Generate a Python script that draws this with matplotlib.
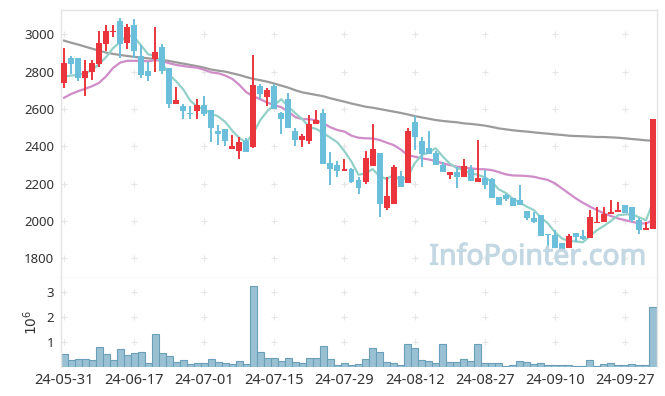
import numpy as np
import matplotlib
matplotlib.use("Agg")
import matplotlib.pyplot as plt

# price data, one entry per trading day (index 0 = 24-05-31)
opens = [2738, 2875, 2875, 2768, 2800, 2841, 2950, 3011, 3071, 2955,
         3050, 2884, 2804, 2868, 2930, 2818, 2627, 2616, 2577, 2591,
         2621, 2595, 2484, 2493, 2387, 2377, 2429, 2398, 2723, 2666,
         2723, 2577, 2654, 2484, 2436, 2430, 2521, 2580, 2311, 2300,
         2270, 2280, 2220, 2211, 2295, 2362, 2071, 2093, 2241, 2205,
         2532, 2429, 2389, 2366, 2300, 2246, 2264, 2237, 2278, 2211,
         2228, 2225, 2127, 2139, 2121, 2112, 2053, 2014, 2032, 1928,
         1925, 1884, 1853, 1934, 1920, 1907, 1987, 1996, 2036, 2046,
         2084, 2073, 2005, 1952, 1957]
closes = [2845, 2841, 2768, 2804, 2845, 2952, 3018, 3018, 2946, 3037,
          2911, 2782, 2779, 2904, 2805, 2627, 2648, 2591, 2571, 2621,
          2571, 2500, 2468, 2430, 2402, 2425, 2371, 2729, 2682, 2702,
          2598, 2548, 2500, 2436, 2455, 2520, 2541, 2305, 2280, 2270,
          2280, 2211, 2178, 2336, 2386, 2091, 2134, 2289, 2184, 2482,
          2452, 2357, 2357, 2300, 2264, 2264, 2237, 2295, 2216, 2228,
          2193, 2125, 2086, 2118, 2080, 2086, 2014, 1996, 1921, 1923,
          1853, 1841, 1920, 1916, 1902, 2020, 1996, 2036, 2046, 2057,
          2041, 2005, 1952, 1964, 2546]
highs = [2925, 2886, 2875, 2861, 2862, 3018, 3050, 3050, 3086, 3054,
         3082, 2943, 2854, 3041, 2948, 2818, 2720, 2628, 2616, 2652,
         2670, 2595, 2514, 2493, 2461, 2448, 2443, 2889, 2734, 2711,
         2734, 2586, 2684, 2496, 2466, 2568, 2593, 2598, 2371, 2323,
         2330, 2282, 2237, 2377, 2520, 2362, 2237, 2300, 2270, 2500,
         2564, 2452, 2484, 2377, 2318, 2264, 2287, 2332, 2300, 2434,
         2273, 2228, 2127, 2143, 2121, 2193, 2053, 2050, 2032, 1928,
         1952, 1884, 1928, 1934, 1952, 2059, 2077, 2077, 2112, 2100,
         2084, 2073, 2014, 1996, 2546]
lows = [2714, 2786, 2750, 2668, 2755, 2827, 2911, 2987, 2871, 2920,
        2871, 2768, 2752, 2800, 2787, 2604, 2627, 2545, 2545, 2545,
        2562, 2421, 2407, 2400, 2387, 2330, 2371, 2389, 2654, 2616,
        2598, 2464, 2500, 2400, 2395, 2412, 2518, 2305, 2193, 2237,
        2270, 2202, 2143, 2196, 2295, 2020, 2059, 2093, 2184, 2205,
        2380, 2291, 2357, 2300, 2261, 2223, 2178, 2237, 2216, 2211,
        2170, 2125, 2086, 2107, 2080, 2086, 2005, 1987, 1921, 1827,
        1853, 1841, 1853, 1886, 1898, 1907, 1987, 1996, 2036, 2046,
        2041, 1993, 1928, 1952, 1957]

# moving averages
ma5 = [2773, 2779, 2782, 2791, 2810, 2840, 2878, 2926, 2958, 2995,
       2986, 2940, 2893, 2885, 2845, 2783, 2748, 2705, 2645, 2612,
       2598, 2575, 2560, 2530, 2484, 2445, 2420, 2471, 2541, 2589,
       2622, 2652, 2612, 2577, 2545, 2502, 2493, 2470, 2446, 2421,
       2373, 2318, 2248, 2255, 2278, 2240, 2225, 2247, 2217, 2236,
       2308, 2353, 2366, 2390, 2346, 2308, 2284, 2272, 2255, 2248,
       2234, 2211, 2170, 2150, 2120, 2099, 2077, 2059, 2019, 1988,
       1941, 1907, 1892, 1891, 1886, 1920, 1951, 1974, 2000, 2031,
       2035, 2037, 2020, 2004, 2102]
ma20 = [2660, 2680, 2695, 2708, 2722, 2740, 2775, 2820, 2848, 2858,
        2858, 2858, 2855, 2862, 2857, 2845, 2836, 2830, 2825, 2821,
        2810, 2796, 2791, 2779, 2761, 2729, 2690, 2668, 2652, 2634,
        2621, 2609, 2586, 2556, 2546, 2545, 2539, 2523, 2502, 2487,
        2479, 2457, 2446, 2443, 2442, 2434, 2420, 2407, 2384, 2353,
        2345, 2336, 2330, 2321, 2309, 2300, 2291, 2287, 2282, 2278,
        2277, 2273, 2262, 2250, 2244, 2243, 2241, 2237, 2228, 2220,
        2202, 2175, 2148, 2121, 2098, 2077, 2059, 2041, 2027, 2014,
        2005, 1996, 1987, 1987, 2005]
ma120 = [2966, 2955, 2945, 2934, 2923, 2912, 2902, 2895, 2889, 2884,
         2879, 2875, 2871, 2868, 2862, 2857, 2850, 2843, 2836, 2829,
         2821, 2811, 2805, 2800, 2791, 2782, 2771, 2761, 2754, 2746,
         2736, 2725, 2714, 2700, 2689, 2682, 2675, 2668, 2657, 2648,
         2639, 2629, 2621, 2612, 2607, 2600, 2593, 2586, 2579, 2571,
         2562, 2555, 2548, 2541, 2536, 2532, 2529, 2523, 2520, 2516,
         2511, 2504, 2496, 2491, 2486, 2482, 2479, 2475, 2471, 2468,
         2464, 2461, 2457, 2455, 2454, 2452, 2450, 2450, 2448, 2446,
         2443, 2439, 2436, 2432, 2430]

# volume in millions
volume = [0.52, 0.29, 0.32, 0.32, 0.29, 0.80, 0.52, 0.29, 0.72, 0.48,
          0.56, 0.60, 0.16, 1.32, 0.56, 0.44, 0.20, 0.28, 0.12, 0.16,
          0.16, 0.32, 0.20, 0.16, 0.12, 0.24, 0.12, 3.24, 0.60, 0.36,
          0.36, 0.24, 0.36, 0.20, 0.16, 0.36, 0.36, 0.84, 0.32, 0.07,
          0.15, 0.08, 0.11, 0.31, 0.75, 0.59, 0.19, 0.15, 0.07, 0.92,
          0.75, 0.27, 0.23, 0.15, 0.92, 0.19, 0.19, 0.31, 0.23, 0.92,
          0.15, 0.15, 0.15, 0.03, 0.07, 0.23, 0.19, 0.11, 0.15, 0.07,
          0.07, 0.07, 0.07, 0.03, 0.03, 0.27, 0.03, 0.11, 0.15, 0.07,
          0.07, 0.11, 0.07, 0.07, 2.40]

tick_idx = [0, 10, 20, 30, 40, 50, 60, 70, 80]
tick_labels = ['24-05-31', '24-06-17', '24-07-01', '24-07-15', '24-07-29',
               '24-08-12', '24-08-27', '24-09-10', '24-09-27']
price_ticks = [1800, 2000, 2200, 2400, 2600, 2800, 3000]
vol_ticks = [1, 2, 3]

plt.rcParams['font.family'] = ['Noto Sans', 'DejaVu Sans']
up_col = '#ea353d'
down_col = '#6cbfda'
grid_col = '#e6e6e6'
spine_col = '#e4e4e4'
text_col = '#333333'

fig = plt.figure(figsize=(6.65, 3.96), dpi=100)
ax = fig.add_axes([61/665, 1 - 278/396, 596/665, 268/396])
axv = fig.add_axes([61/665, 1 - 367/396, 596/665, 89/396], sharex=ax)

x = np.arange(len(closes))
o = np.array(opens)
c = np.array(closes)
up = c >= o
cols = np.where(up, up_col, down_col)
body_lo = np.minimum(o, c)
body_h = np.maximum(np.abs(c - o), 6)

# MA lines under the candles
ax.plot(x, ma120, color='#9b9b9b', lw=1.6, zorder=2)
ax.plot(x, ma20, color='#cf8cc9', lw=1.6, zorder=2)
ax.plot(x, ma5, color='#93d1c8', lw=1.6, zorder=2)

ax.vlines(x, lows, highs, colors=cols, lw=1.4, zorder=3)
ax.bar(x, body_h, bottom=body_lo, width=0.85, color=cols, zorder=4)

# "+" grid marks at tick crossings
gx, gy = np.meshgrid(tick_idx, price_ticks)
ax.plot(gx.ravel(), gy.ravel(), '+', color=grid_col, ms=4, mew=0.8, zorder=1)
gx, gy = np.meshgrid(tick_idx, vol_ticks)
axv.plot(gx.ravel(), gy.ravel(), '+', color=grid_col, ms=4, mew=0.8, zorder=1)

wm = ax.text(0.8, 0.078, 'InfoPointer.com', transform=ax.transAxes, ha='center', va='center',
             fontsize=20.5, color='#c4d8e3', zorder=5)
import matplotlib.patheffects as pe
wm.set_path_effects([pe.withStroke(linewidth=0.8, foreground='#c4d8e3')])

axv.bar(x, volume, width=1.0, color='#9ac1d3', edgecolor='#6a9fb9', lw=0.8, zorder=2)

ax.set_xlim(-0.43, 84.57)
ax.set_ylim(1695, 3130)
axv.set_ylim(0, 3.56)

ax.set_yticks(price_ticks)
axv.set_yticks(vol_ticks)
axv.set_xticks(tick_idx)
axv.set_xticklabels(tick_labels)
ax.tick_params(axis='x', labelbottom=False, length=0)
for a in (ax, axv):
    a.tick_params(length=0, pad=5, labelsize=9.5, colors=text_col)
    for s in a.spines.values():
        s.set_color(spine_col)
        s.set_linewidth(1)
axv.tick_params(axis='x', labelsize=10.5, pad=4)
axv.spines['bottom'].set_visible(False)
axv.spines['top'].set_visible(False)
axv.set_ylabel('$10^6$', fontsize=10, color=text_col, labelpad=4)

fig.savefig('out.png', dpi=100, facecolor='white')
